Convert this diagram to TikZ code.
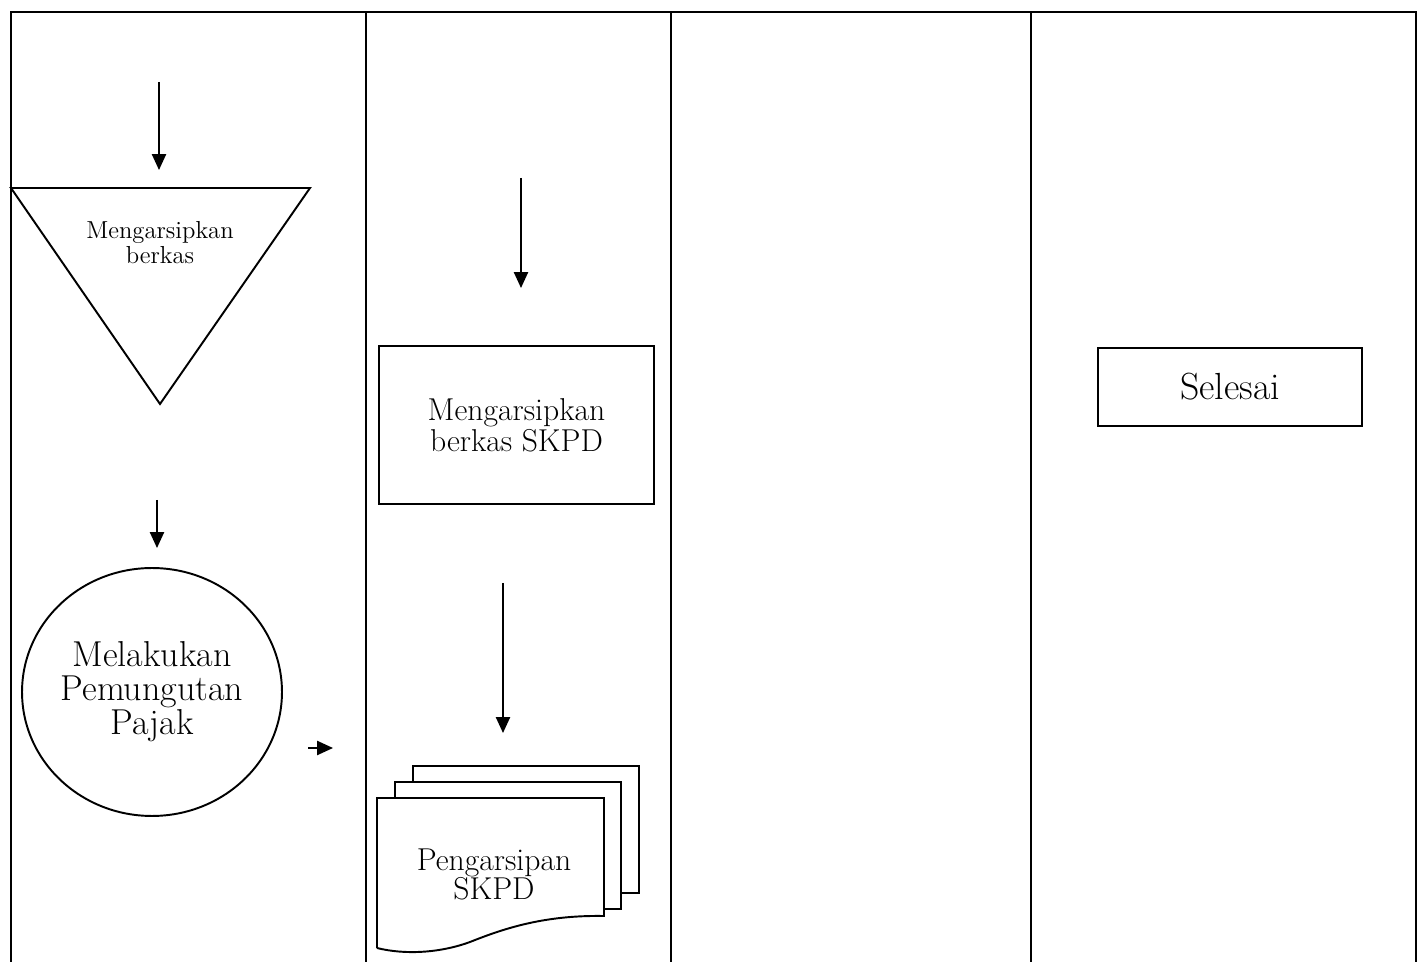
\documentclass[tikz,border=0pt]{standalone}
\usepackage{tikz}
\usetikzlibrary{arrows.meta,positioning,shapes.geometric}

\begin{document}
\begin{tikzpicture}[x=0.02cm,y=-0.02cm,
  >={Triangle[length=9pt,width=8pt]},
  lane/.style={line width=0.9pt},
  flow/.style={->,line width=1pt},
  shp/.style={draw,line width=1.1pt},
  box/.style={rectangle,draw,line width=1.1pt,align=center,inner sep=0pt},
  lbl/.style={align=center,inner sep=0pt}
]
\useasboundingbox (0,0) rectangle (1421,962);
% lanes
\draw[lane] (11,962) -- (11,12) -- (1416,12) -- (1416,962);
\draw[lane] (366,12) -- (366,962);
\draw[lane] (671,12) -- (671,962);
\draw[lane] (1031,12) -- (1031,962);

% lane 1
\coordinate (a1s) at (159,82); \coordinate (a1e) at (159,170);
\draw[flow] (a1s) -- (a1e);
\draw[shp,line join=miter] (11,188) -- (310,188) -- (160,404) -- cycle;
\node[lbl,font=\fontsize{14}{14.3}\selectfont] (arsip) at (160,243) {Mengarsipkan\\berkas};
\coordinate (a2s) at (157,500); \coordinate (a2e) at (157,548);
\draw[flow] (a2s) -- (a2e);
\node[ellipse,shp,minimum width=5.2cm,minimum height=4.96cm,lbl,
  font=\fontsize{20.5}{19.4}\selectfont] (pungut) at (152,692) {Melakukan\\Pemungutan\\Pajak};
\coordinate (a3s) at (308,748); \coordinate (a3e) at (333,748);
\draw[flow] (a3s) -- (a3e);

% lane 2
\coordinate (b1s) at (521,178); \coordinate (b1e) at (521,288);
\draw[flow] (b1s) -- (b1e);
\node[box,minimum width=5.5cm,minimum height=3.16cm,
  font=\fontsize{18}{17.6}\selectfont] (skpd) at (516.5,425) {Mengarsipkan\\berkas SKPD};
\coordinate (b2s) at (503,583); \coordinate (b2e) at (503,733);
\draw[flow] (b2s) -- (b2e);
% multi document
\draw[shp,line join=miter] (622,893) -- (639,893) -- (639,766) -- (413,766) -- (413,782);
\draw[shp,line join=miter] (604,909) -- (621,909) -- (621,782) -- (395,782) -- (395,798);
\draw[shp,line join=miter] (377,948) -- (377,798) -- (604,798) -- (604,916)
  .. controls (545,915) and (505,928) .. (470,942)
  .. controls (440,953) and (405,955) .. (377,948);
\node[lbl,font=\fontsize{18}{16.5}\selectfont] (doc) at (494,874.5) {Pengarsipan\\SKPD};

% lane 4
\node[box,minimum width=5.28cm,minimum height=1.56cm,
  font=\fontsize{21.5}{22}\selectfont] (selesai) at (1230,387) {Selesai};
\end{tikzpicture}
\end{document}
